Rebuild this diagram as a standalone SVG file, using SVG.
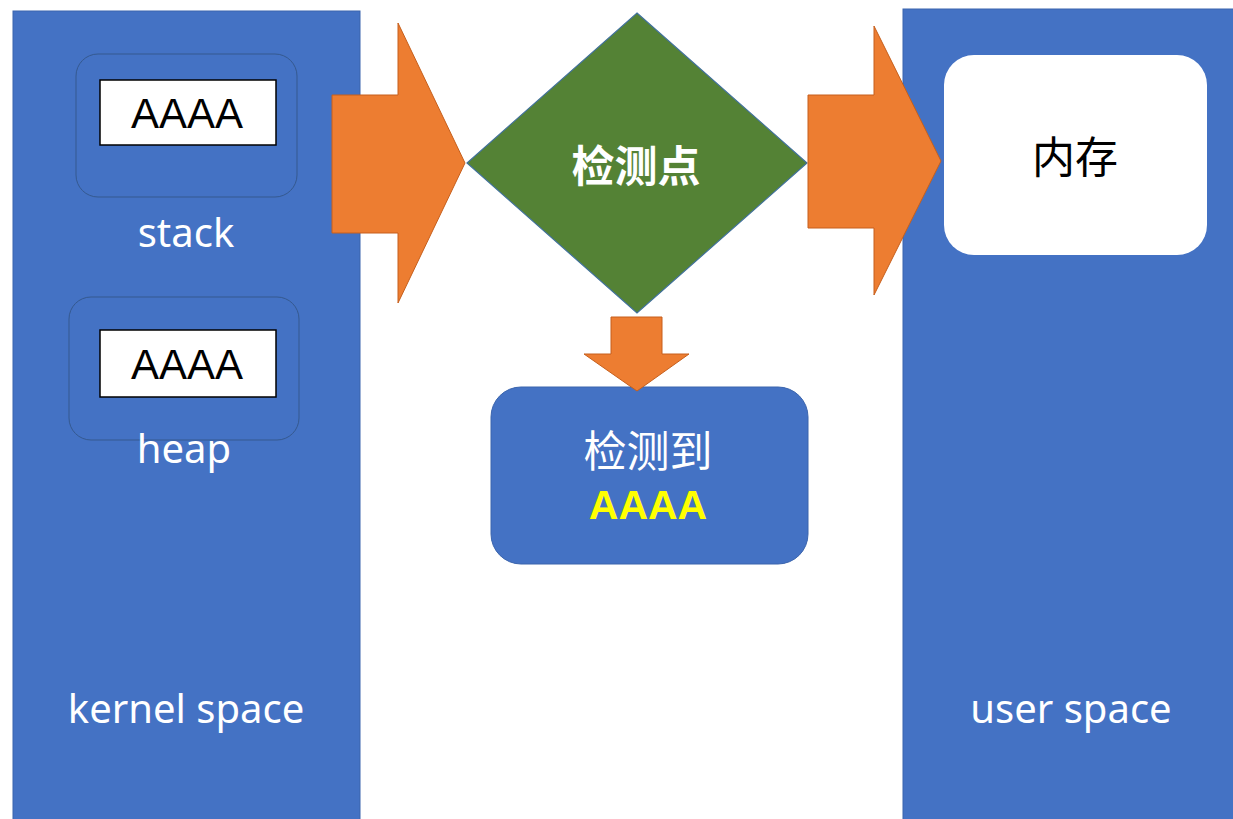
<svg xmlns="http://www.w3.org/2000/svg" width="1233" height="819" viewBox="0 0 1233 819">
<style>
.panel{fill:#4472c4;stroke:#3a64ad;stroke-width:1}
.inner{fill:#4472c4;stroke:#35598f;stroke-width:1}
.val{fill:#fff;stroke:#000;stroke-width:1.5}
.arrow{fill:#ed7d31;stroke:#c65f1c;stroke-width:1}
.lbl{font-family:"Noto Sans","Liberation Sans",sans-serif;font-size:40px;fill:#fff;text-anchor:middle}
.aaaa{font-family:"Liberation Sans",Arial,sans-serif;font-size:42px;fill:#000;text-anchor:middle}
.cjk{font-family:"Noto Sans CJK SC",sans-serif;text-anchor:middle}
</style>
<rect width="1233" height="819" fill="#fff"/>
<g id="kernel-space">
<rect class="panel" x="13" y="11" width="347" height="810"/>
<text class="lbl" x="186" y="723">kernel space</text>
</g>
<g id="user-space">
<rect class="panel" x="903" y="9" width="332" height="812"/>
<text class="lbl" x="1071" y="723">user space</text>
</g>
<g id="stack">
<rect class="inner" x="76" y="54" width="221" height="143" rx="22"/>
<rect class="val" x="100" y="80" width="176" height="65"/>
<text class="aaaa" x="187" y="128">AAAA</text>
<text class="lbl" x="186" y="247">stack</text>
</g>
<g id="heap">
<rect class="inner" x="69" y="297" width="230" height="143" rx="22"/>
<rect class="val" x="100" y="330" width="176" height="67"/>
<text class="aaaa" x="187" y="379">AAAA</text>
<text class="lbl" x="184" y="463">heap</text>
</g>
<g id="checkpoint">
<polygon points="637,13 807,163 637,313 467,163" fill="#548235" stroke="#41719c" stroke-width="1.2"/>
<text class="cjk" x="636" y="182" font-size="43" font-weight="bold" fill="#fff">检测点</text>
</g>
<g id="memory">
<rect x="944" y="55" width="263" height="200" rx="30" fill="#fff"/>
<text class="cjk" x="1075" y="173" font-size="43" fill="#000">内存</text>
</g>
<g id="detected">
<rect x="491" y="387" width="317" height="177" rx="30" fill="#4472c4" stroke="#3a64ad" stroke-width="1"/>
<text class="cjk" x="648" y="467" font-size="43" fill="#fff">检测到</text>
<text x="648" y="519" font-family="Liberation Sans,Arial,sans-serif" font-size="41" font-weight="bold" fill="#ffff00" text-anchor="middle">AAAA</text>
</g>
<g id="connectors">
<polygon class="arrow" points="332,95 398,95 398,23 465,163 398,303 398,233 332,233"/>
<polygon class="arrow" points="808,95 874,95 874,26 941,161 874,295 874,228 808,228"/>
<polygon class="arrow" points="611,317 662,317 662,354 689,354 637,391 584,354 611,354"/>
</g>
</svg>
